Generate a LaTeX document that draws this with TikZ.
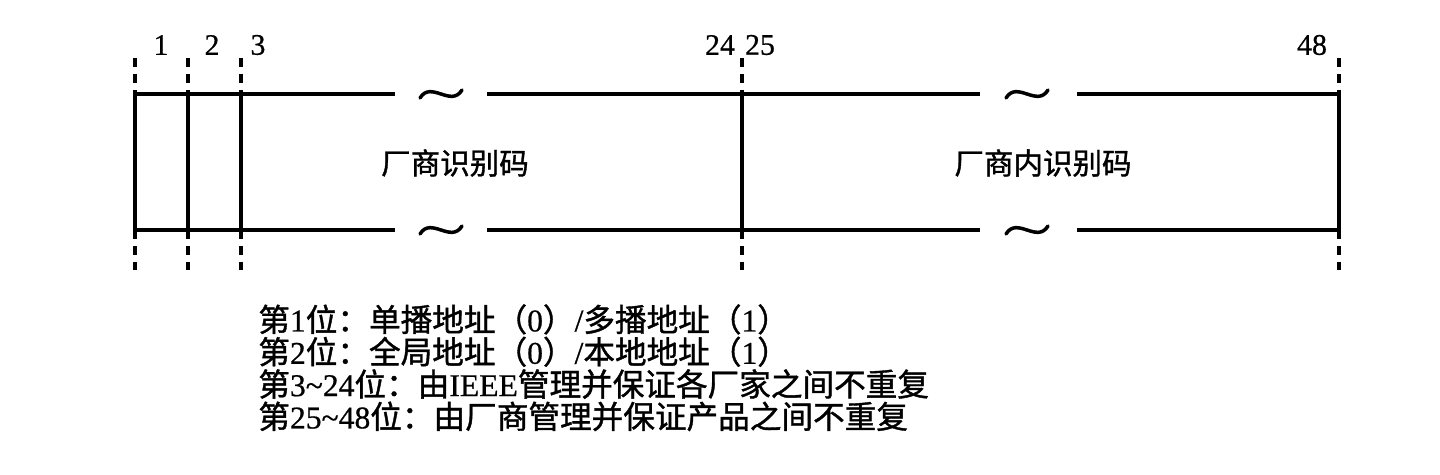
\documentclass[tikz,border=0pt]{standalone}
\usepackage{fontspec}
\setmainfont{Liberation Serif}[FakeBold=0.6]
\newfontfamily\cjk{Noto Sans CJK SC}[FakeBold=1.2]
\usetikzlibrary{calc}
\newcommand{\zh}[1]{{\cjk #1}}

\tikzset{
  frame/.style={line width=2pt},
  tick/.style={line width=2pt,dash pattern=on 5pt off 4pt},
  bitno/.style={font=\fontsize{17}{17}\selectfont,inner sep=0pt},
  field/.style={font=\fontsize{16.8}{16.8}\cjk,inner sep=0pt},
  note/.style={font=\fontsize{18}{18.4}\selectfont,align=left,anchor=north west,inner sep=0pt},
  breakmark/.style={line width=2pt,line cap=round}
}

\begin{document}
\begin{tikzpicture}[x=0.02cm,y=-0.02cm]
  \useasboundingbox (0,0) rectangle (1440,474);

  % field boundaries, top and bottom
  \foreach \n/\x in {a/135,b/188,c/241,d/742,e/1339}{
    \coordinate (t\n) at (\x,94);
    \coordinate (b\n) at (\x,230);
    \coordinate (tt\n) at (\x,58);
    \coordinate (bb\n) at (\x,270);
  }
  \foreach \n in {a,b,c,d,e}{
    \draw[frame] (t\n) -- (b\n);
    \draw[tick] (tt\n) -- (t\n);
    \draw[tick] (b\n) -- (bb\n);
  }

  % broken top and bottom lines
  \foreach \y/\s in {94/t,230/b}{
    \draw[frame] (\s a) -- (395,\y);
    \draw[frame] (487,\y) -- (980,\y);
    \draw[frame] (1077,\y) -- (\s e);
    \foreach \m in {441,1027}
      \draw[breakmark] (\m-21,\y+4) .. controls (\m-10,\y-14) and (\m+10,\y+14) .. (\m+21,\y-4);
  }

  % bit numbers
  \node[bitno] (n1) at (161,45) {1};
  \node[bitno] (n2) at (212,45) {2};
  \node[bitno] (n3) at (258,45) {3};
  \node[bitno] (n24) at (720,45) {24};
  \node[bitno] (n25) at (760,45) {25};
  \node[bitno] (n48) at (1312,45) {48};

  % fields
  \node[field] (oui) at (455,163) {厂商识别码};
  \node[field] (nic) at (1043,163) {厂商内识别码};

  % notes
  \node[note] (notes) at (258,304) {%
    \zh{第}1\zh{位：单播地址（}0\zh{）}/\zh{多播地址（}1\zh{）}\\
    \zh{第}2\zh{位：全局地址（}0\zh{）}/\zh{本地地址（}1\zh{）}\\
    \zh{第}3\textasciitilde24\zh{位：由}IEEE\zh{管理并保证各厂家之间不重复}\\
    \zh{第}25\textasciitilde48\zh{位：由厂商管理并保证产品之间不重复}};
\end{tikzpicture}
\end{document}
